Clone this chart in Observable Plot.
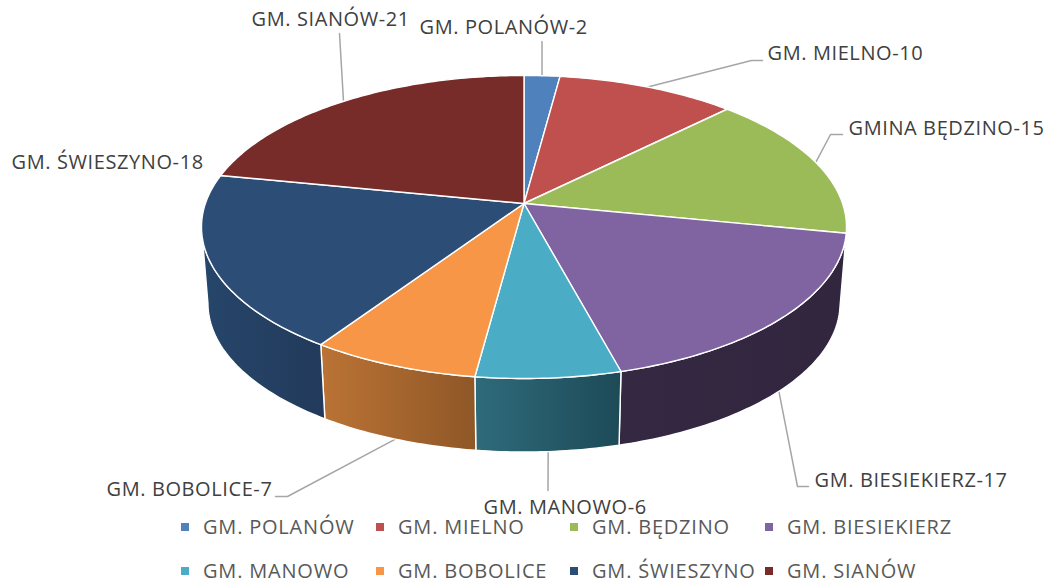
<!DOCTYPE html>
<html>
<head>
<meta charset="utf-8">
<script src="https://cdn.jsdelivr.net/npm/d3@7"></script>
<script src="https://cdn.jsdelivr.net/npm/@observablehq/plot@0.6"></script>
<style>
html,body{margin:0;padding:0;background:#fff}
#chart{position:relative;width:1045px;height:582px;font-family:"Open Sans",sans-serif}
#chart svg{display:block}
.lg{position:absolute;color:#595959;font-size:20px;line-height:20px;white-space:nowrap;letter-spacing:.8px}
.sw{position:absolute;width:8px;height:8px}
</style>
</head>
<body>
<div id="chart"></div>
<script>
// ---- data ----
const names = ["GM. POLANÓW","GM. MIELNO","GM. BĘDZINO","GM. BIESIEKIERZ","GM. MANOWO","GM. BOBOLICE","GM. ŚWIESZYNO","GM. SIANÓW"];
const labels = ["GM. POLANÓW-2","GM. MIELNO-10","GMINA BĘDZINO-15","GM. BIESIEKIERZ-17","GM. MANOWO-6","GM. BOBOLICE-7","GM. ŚWIESZYNO-18","GM. SIANÓW-21"];
const values = [2,10,15,17,6,7,18,21];
const topColors = ["#4f81bd","#c0504d","#9bbb59","#8064a2","#4bacc6","#f79646","#2c4d75","#772c2a"];
const wallFrom = ["#3f6797","#9a403e","#7c9647","#352842","#2f6b7b","#bb7335","#26466a","#5f2322"];
const wallTo   = ["#3f6797","#9a403e","#7c9647","#32263f","#1d4a57","#8f5727","#223a5b","#5f2322"];

// ---- layout (label anchors, legend slots, pie geometry) ----
const labelX = [419,767,848,814,483,106,11,251];
const labelY = [27,53,128,480,507,489,162,19];
const elbows = [[[541.5,41]],[[751,60],[762,60]],[[830,134],[842,134]],[[797,486],[808,486]],[[547.5,490]],[[287,496],[275,496]],null,[[339,33]]];
const onWall = [false,false,false,true,true,true,false,false];
const legendX = [181,376,570,765];
const legendY = [527,571];
const W = 1045, H = 524;
const cx = 523.5, topCy = 203, botCy = 280, a = 318.6, b = 147.9, k = 0.155, botScale = 0.98;
const edgeR = Math.acos(-k), edgeL = 2 * Math.PI - edgeR;

const total = d3.sum(values);
const cum = d3.cumsum(values);
const startA = i => (i ? cum[i - 1] : 0) / total * 2 * Math.PI;
const endA = i => cum[i] / total * 2 * Math.PI;
const rim = (t, bottom) => {
  const s = bottom ? botScale : 1, d = 1 + k * Math.cos(t);
  return {x: cx + s * a * Math.sin(t) / d, y: (bottom ? botCy : topCy) - s * b * Math.cos(t) / d};
};
const arc = (t0, t1, bottom) => {
  const n = Math.max(2, Math.ceil(Math.abs(t1 - t0) * 60));
  return d3.range(n + 1).map(j => rim(t0 + (t1 - t0) * j / n, bottom));
};

const slicePts = i => [{x: cx, y: topCy}, ...arc(startA(i), endA(i), false), {x: cx, y: topCy}];
const wallRange = i => {
  const mid = (startA(i) + endA(i)) / 2;
  if (mid < edgeR || mid > edgeL) return null;
  return [Math.max(startA(i), edgeR), Math.min(endA(i), edgeL)];
};
const wallPts = i => {
  const [t0, t1] = wallRange(i);
  const p = [...arc(t0, t1, false), ...arc(t1, t0, true)];
  return [...p, p[0]];
};
const leaderPts = i => {
  const mid = (startA(i) + endA(i)) / 2;
  return [rim(mid, onWall[i]), ...elbows[i].map(([x, y]) => ({x, y}))];
};

const xy = {x: "x", y: "y"};
const defsMark = () => {
  const defs = d3.create("svg:defs");
  values.forEach((_, i) => {
    const g = defs.append("linearGradient").attr("id", "wall" + i).attr("x1", 0).attr("x2", 1).attr("y1", 0).attr("y2", 0);
    g.append("stop").attr("offset", 0).attr("stop-color", wallFrom[i]);
    g.append("stop").attr("offset", 1).attr("stop-color", wallTo[i]);
  });
  return defs.node();
};

const idx = d3.range(values.length);
const plot = Plot.plot({
  width: W, height: H,
  margin: 0,
  style: {letterSpacing: "0.6px"},
  x: {domain: [0, W], range: [0, W], axis: null},
  y: {domain: [0, H], range: [0, H], axis: null},
  marks: [
    defsMark,
    ...idx.filter(i => elbows[i]).map(i => Plot.line(leaderPts(i), {...xy, stroke: "#a6a6a6", strokeWidth: 1.5})),
    ...idx.filter(i => wallRange(i)).map(i => Plot.line(wallPts(i), {...xy, fill: `url(#wall${i})`, stroke: "#fff", strokeWidth: 1.4, strokeLinejoin: "round"})),
    ...idx.map(i => Plot.line(slicePts(i), {...xy, fill: topColors[i], stroke: "#fff", strokeWidth: 1.4, strokeLinejoin: "round"})),
    Plot.text(idx, {
      x: i => labelX[i], y: i => labelY[i], text: i => labels[i],
      textAnchor: "start", lineAnchor: "middle",
      fontFamily: "Open Sans", fontSize: 20, fill: "#404040"
    })
  ]
});

const chart = document.getElementById("chart");
chart.appendChild(plot);
names.forEach((n, i) => {
  const col = i % 4, row = i < 4 ? 0 : 1;
  const sw = document.createElement("div");
  sw.className = "sw";
  sw.style.cssText = `left:${legendX[col]}px;top:${legendY[row] - 4}px;background:${topColors[i]}`;
  chart.appendChild(sw);
  const t = document.createElement("div");
  t.className = "lg";
  t.textContent = n;
  t.style.left = (legendX[col] + 22) + "px";
  t.style.top = (legendY[row] - 10) + "px";
  chart.appendChild(t);
});
</script>
</body>
</html>
